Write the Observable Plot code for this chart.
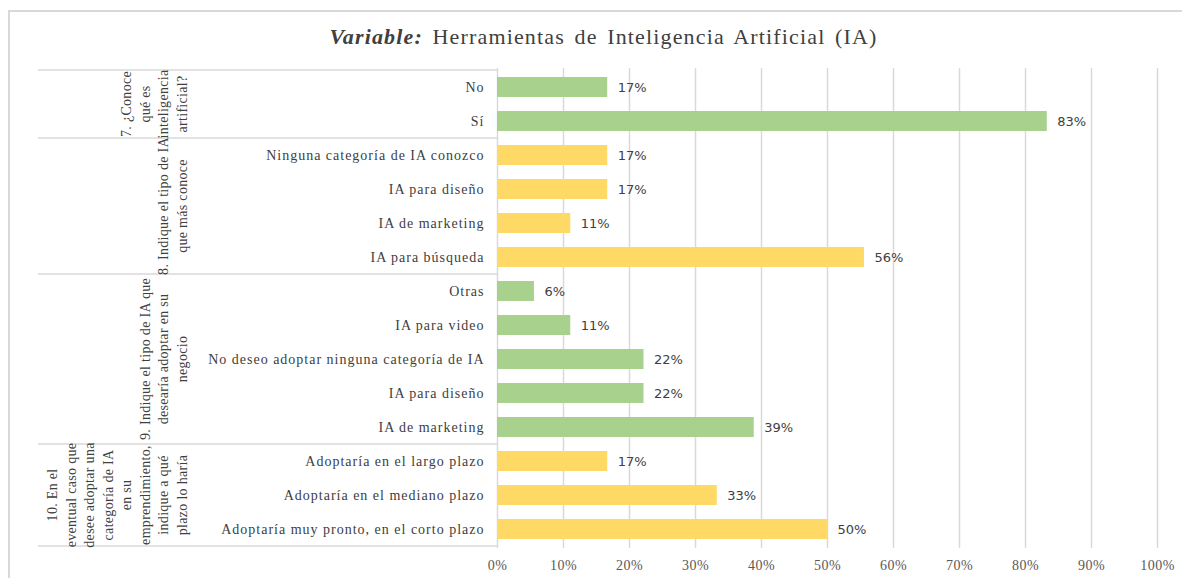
<!DOCTYPE html>
<html>
<head>
<meta charset="utf-8">
<script src="https://cdn.jsdelivr.net/npm/d3@7"></script>
<script src="https://cdn.jsdelivr.net/npm/@observablehq/plot@0.6"></script>
<style>
  body { margin: 0; background: #fff; width: 1189px; height: 578px; overflow: hidden; }
  #frame { position: absolute; left: 8px; top: 10px; width: 1172px; height: 600px;
           border-left: 2px solid #d9d9d9; border-top: 2px solid #d9d9d9; }
  #title { position: absolute; left: 9px; top: 24px; width: 1189px; text-align: center;
           font-family: "Liberation Serif", serif; font-size: 22px; color: #404040;
           letter-spacing: 1.15px; word-spacing: 3px; }
  #chart { position: absolute; left: 0; top: 58px; }
  #chart svg { display: block; }
</style>
</head>
<body>
<div id="frame"></div>
<div id="title"><b><i>Variable:</i></b> Herramientas de Inteligencia Artificial (IA)</div>
<div id="chart"></div>
<script>
// ---- data ----
const questionLines = [
  ["7. ¿Conoce", "qué es", "inteligencia", "artificial?"],
  ["8. Indique el tipo de IA", "que más conoce"],
  ["9. Indique el tipo de IA que", "desearía adoptar en su", "negocio"],
  ["10. En el", "eventual caso que", "desee adoptar una", "categoría de IA", "en su", "emprendimiento,", "indique a qué", "plazo lo haría"]
];
const categories = [
  "No", "Sí",
  "Ninguna categoría de IA conozco", "IA para diseño", "IA de marketing", "IA para búsqueda",
  "Otras", "IA para video", "No deseo adoptar ninguna categoría de IA", "IA para diseño", "IA de marketing",
  "Adoptaría en el largo plazo", "Adoptaría en el mediano plazo", "Adoptaría muy pronto, en el corto plazo"
];
const questionIndex = [0, 0, 1, 1, 1, 1, 2, 2, 2, 2, 2, 3, 3, 3];
const percentages = [16.7, 83.3, 16.7, 16.7, 11.1, 55.6, 5.6, 11.1, 22.2, 22.2, 38.9, 16.7, 33.3, 50.0];
const xTicks = [0, 10, 20, 30, 40, 50, 60, 70, 80, 90, 100];
const questionColors = ["#A9D18E", "#FFD966", "#A9D18E", "#FFD966"];

// ---- table ----
const rows = categories.map((c, i) => ({
  key: i + "|" + c, label: c, q: questionIndex[i], value: percentages[i]
}));
const keys = rows.map(d => d.key);

const GRID = "#d9d9d9";

function questionMark(index, scales, values, dimensions) {
  const y = scales.y, x = scales.x;
  const step = y.step(), bw = y.bandwidth();
  const half = (step - bw) / 2;
  const g = d3.create("svg:g");
  const xAxis = x(0);
  const xLeft = 38;
  questionLines.forEach((lines, q) => {
    const qKeys = rows.filter(d => d.q === q).map(d => d.key);
    const top = y(qKeys[0]) - half;
    const bottom = y(qKeys[qKeys.length - 1]) + bw + half;
    if (q === 0) {
      g.append("line").attr("x1", xLeft).attr("x2", xAxis).attr("y1", top).attr("y2", top)
        .attr("stroke", GRID).attr("stroke-width", 1.5);
    }
    g.append("line").attr("x1", xLeft).attr("x2", xAxis).attr("y1", bottom).attr("y2", bottom)
      .attr("stroke", GRID).attr("stroke-width", 1.5);
    const cy = (top + bottom) / 2;
    const n = lines.length;
    lines.forEach((line, j) => {
      const cx = 182 - (n - 1 - j) * 18.5;
      g.append("text")
        .attr("transform", `translate(${cx},${cy}) rotate(-90)`)
        .attr("text-anchor", "middle")
        .attr("dominant-baseline", "central")
        .attr("font-family", "Liberation Serif, serif")
        .attr("font-size", 14)
        .attr("letter-spacing", 0.3)
        .attr("fill", "#404040")
        .text(line);
    });
  });
  return g.node();
}

const chart = Plot.plot({
  width: 1189,
  height: 520,
  marginLeft: 497,
  marginRight: 32,
  marginTop: 10,
  marginBottom: 30,
  style: { background: "transparent", overflow: "visible" },
  x: { domain: [0, 100], label: null },
  y: { domain: keys, paddingInner: 0.42, paddingOuter: 0.21, label: null },
  color: { type: "identity" },
  marks: [
    Plot.ruleX(xTicks.slice(1), { stroke: GRID, strokeWidth: 1.5 }),
    Plot.ruleX([0], { stroke: GRID, strokeWidth: 1.5 }),
    Plot.barX(rows, { x: "value", y: "key", fill: d => questionColors[d.q] }),
    Plot.text(rows, {
      x: "value", y: "key", text: d => Math.round(d.value) + "%",
      textAnchor: "start", dx: 10, fontFamily: "DejaVu Sans", fontSize: 13, fill: "#404040"
    }),
    Plot.axisX({
      ticks: xTicks, tickSize: 0, tickPadding: 12, tickFormat: d => d + "%",
      fontFamily: "Liberation Serif", fontSize: 14, fill: "#595959", label: null
    }),
    Plot.axisY({
      tickSize: 0, tickPadding: 13, tickFormat: k => k.split("|")[1],
      fontFamily: "Liberation Serif", fontSize: 14, fill: "#404040", label: null
    }),
    questionMark
  ]
});
chart.querySelectorAll('[aria-label="y-axis tick label"] text').forEach(t => t.setAttribute("letter-spacing", "1"));
chart.querySelectorAll('[aria-label="x-axis tick label"] text').forEach(t => t.setAttribute("letter-spacing", "0.5"));
document.getElementById("chart").appendChild(chart);
</script>
</body>
</html>
